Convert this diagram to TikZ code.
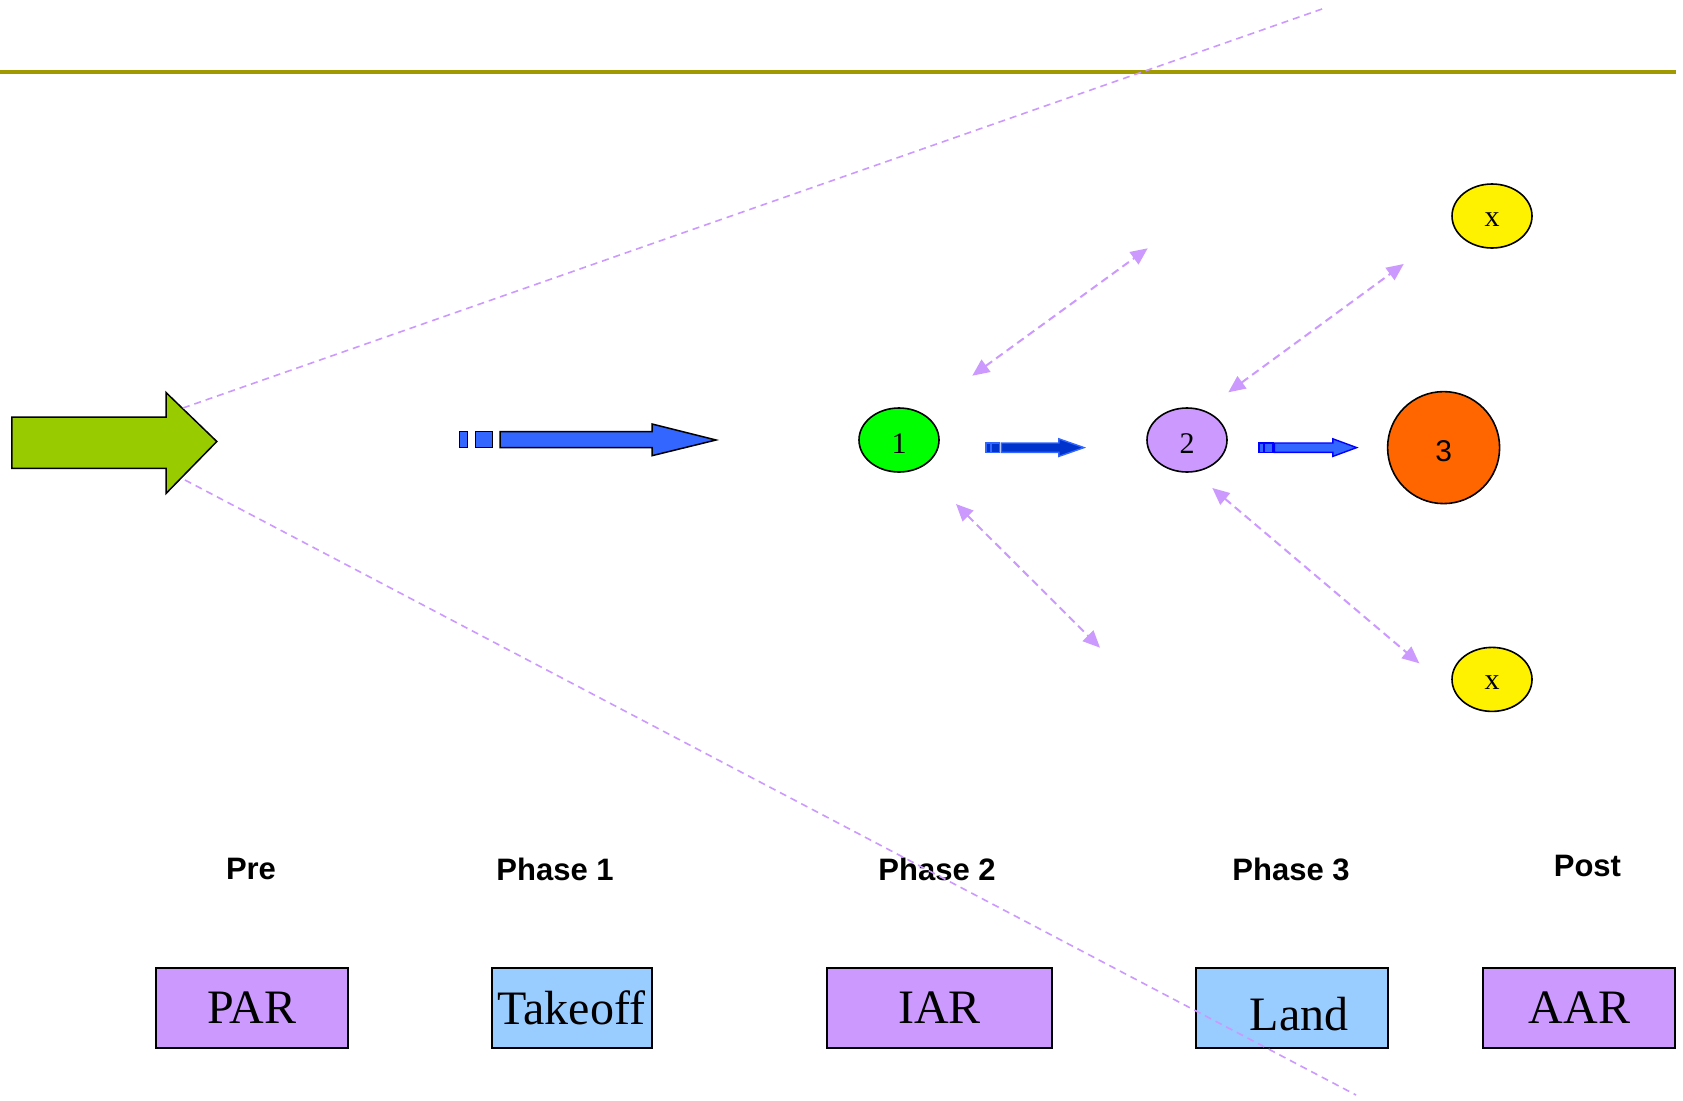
\documentclass[tikz,border=0pt]{standalone}
\usepackage{fontspec}
\setmainfont{Liberation Serif}
\newfontfamily\lbsans{Liberation Sans}
\usetikzlibrary{shapes.geometric,arrows.meta}

\definecolor{lilac}{HTML}{CC99FF}
\definecolor{skyblue}{HTML}{99CCFF}
\definecolor{leafgreen}{HTML}{99CC00}
\definecolor{royal}{HTML}{3366FF}
\definecolor{deepblue}{HTML}{0033CC}
\definecolor{olive}{HTML}{A09A00}
\definecolor{orange}{HTML}{FF6600}

% set a glyph a little below the node centre while keeping its box
\newcommand\sunkentext[1]{\raisebox{-3.5pt}[\height][0pt]{#1}}

\tikzset{
  stagenode/.style={ellipse, draw=black, line width=1.6pt, minimum width=80pt,
    minimum height=64pt, inner sep=0pt, font=\fontsize{30}{30}\selectfont},
  phasebox/.style={rectangle, draw=black, line width=2pt, minimum width=192pt,
    minimum height=79.5pt, inner sep=1pt, font=\fontsize{48}{48}\selectfont},
  phaselabel/.style={font=\lbsans\bfseries\fontsize{31}{31}\selectfont, inner sep=0pt},
  guide/.style={draw=lilac, line width=1.6pt, dash pattern=on 7pt off 5pt},
  link/.style={draw=lilac, line width=2pt, dash pattern=on 8pt off 5pt,
    {Triangle[length=17pt,width=15pt,fill=lilac]}-{Triangle[length=17pt,width=15pt,fill=lilac]}},
  bigshape/.style={draw=black, line width=1.5pt, line join=miter}
}

\begin{document}
\begin{tikzpicture}[x=1pt,y=-1pt]
\useasboundingbox (0,0) rectangle (1683,1100);

% header rule
\coordinate (ruleL) at (0,72);
\coordinate (ruleR) at (1676,72);
\draw[olive, line width=3.5pt] (ruleL) -- (ruleR);

% green entry arrow
\draw[bigshape, fill=leafgreen]
  (11.8,417) -- (166,417) -- (166,392.5) -- (216.8,441.5) -- (166,493.5)
  -- (166,468.3) -- (11.8,468.3) -- cycle;

% guide lines fanning out from the entry arrow
\coordinate (fanA) at (183,408);
\coordinate (fanAend) at (1322,9);
\coordinate (fanB) at (185,480);
\coordinate (fanBend) at (1356,1095);
\draw[guide] (fanA) -- (fanAend);

% large blue progress arrow
\begin{scope}[bigshape, fill=royal]
  \filldraw (459.3,431.7) rectangle (467.3,447.7);
  \filldraw (475.7,431.7) rectangle (492.3,447.7);
  \filldraw (500,431.7) -- (652,431.7) -- (652,424) -- (716,440)
    -- (652,455.7) -- (652,447.7) -- (500,447.7) -- cycle;
\end{scope}

% stages
\node[stagenode, fill=green] (s1) at (899,440) {\sunkentext{1}};
\node[stagenode, fill=lilac] (s2) at (1187,440) {\sunkentext{2}};
\node[circle, draw=black, line width=1.6pt, minimum size=112pt, inner sep=0pt,
  fill=orange, font=\lbsans\fontsize{30}{30}\selectfont] (s3) at (1443.6,447.6) {\sunkentext{3}};
\node[stagenode, fill=yellow] (xa) at (1492,216) {\sunkentext{x}};
\node[stagenode, fill=yellow] (xb) at (1492,679.4) {\sunkentext{x}};

% small arrow between stage 1 and stage 2
\begin{scope}[draw=royal, line width=1.4pt, fill=deepblue]
  \filldraw (986,443) rectangle (990.6,452.3);
  \filldraw (991.7,443) rectangle (999.6,452.3);
  \filldraw (1001.4,443) -- (1058.8,443) -- (1058.8,438.8) -- (1084,447.6)
    -- (1058.8,456.4) -- (1058.8,452.3) -- (1001.4,452.3) -- cycle;
\end{scope}

% small arrow between stage 2 and stage 3
\begin{scope}[draw=blue, line width=1.4pt, fill=royal]
  \filldraw (1259,443) rectangle (1263.6,452.3);
  \filldraw (1264.4,443) rectangle (1273,452.3);
  \filldraw (1274.3,443) -- (1332.8,443) -- (1332.8,438.8) -- (1356.7,447.6)
    -- (1332.8,456.4) -- (1332.8,452.3) -- (1274.3,452.3) -- cycle;
\end{scope}

% two-way dashed links
\coordinate (l1a) at (972.3,375.7);  \coordinate (l1b) at (1147.7,248.3);
\coordinate (l2a) at (1228.3,392.3); \coordinate (l2b) at (1403.7,264);
\coordinate (l3a) at (956,504);      \coordinate (l3b) at (1100,647.7);
\coordinate (l4a) at (1212.3,488);   \coordinate (l4b) at (1419.3,663.3);
\draw[link] (l1a) -- (l1b);
\draw[link] (l2a) -- (l2b);
\draw[link] (l3a) -- (l3b);
\draw[link] (l4a) -- (l4b);

% phase captions
\node[phaselabel] (cpre) at (251,869.4) {Pre};
\node[phaselabel] (cp1)  at (555,869.4) {Phase 1};
\node[phaselabel] (cp2)  at (937,869.4) {Phase 2};
\node[phaselabel] (cp3)  at (1291,869.4) {Phase 3};
\node[phaselabel] (cpost) at (1587.4,866) {Post};

% phase boxes
\node[phasebox, fill=lilac] (par) at (251.6,1007.8) {PAR};
\node[phasebox, fill=skyblue, minimum width=160pt] (takeoff) at (571.5,1007.8) {Takeoff};
\node[phasebox, fill=lilac, minimum width=224.3pt] (iar) at (939.6,1007.8) {IAR};
\node[phasebox, fill=skyblue] (land) at (1291.7,1007.8) {};
\node[font=\fontsize{48}{48}\selectfont, inner sep=0pt] (landtext) at (1299,1014) {Land};
\node[phasebox, fill=lilac] (aar) at (1579.4,1007.8) {AAR};

% the lower guide line runs over the captions and the Land box
\draw[guide] (fanB) -- (fanBend);
\end{tikzpicture}
\end{document}
